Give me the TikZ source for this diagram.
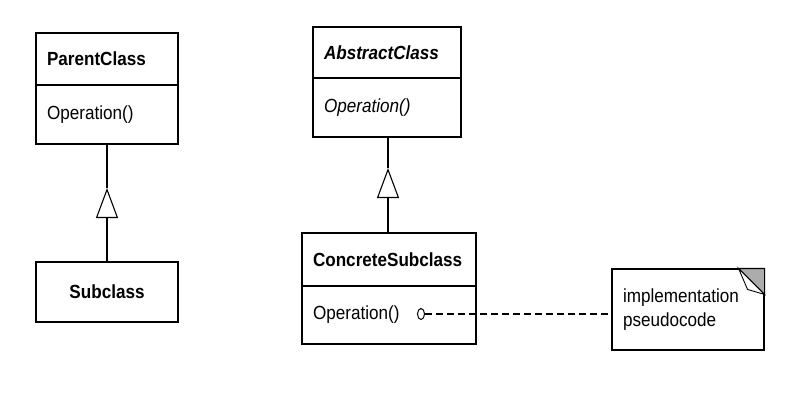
\documentclass[tikz,border=0pt]{standalone}
\usepackage{fontspec}
\setmainfont{Liberation Sans}[FakeStretch=0.9]
\usetikzlibrary{arrows.meta,shapes.geometric,calc}
\newcommand{\umlfont}{\fontsize{19}{24}\selectfont}
\tikzset{
  box/.style={draw,line width=1.1pt,inner xsep=11pt,inner ysep=0pt,font=\umlfont},
  hdr/.style={box,font=\umlfont\bfseries,align=left},
  ops/.style={box,align=left},
  edge/.style={line width=1.1pt},
  inh/.style={edge,-{Triangle[open,length=30pt,width=22pt]}},
  notelink/.style={line width=1.1pt,dash pattern=on 7pt off 4pt}
}
\begin{document}
\begin{tikzpicture}[x=1pt,y=-1pt]
\useasboundingbox (0,0) rectangle (801,400);
% left: parent and subclass
\node[hdr,text width=120pt,minimum height=52pt] (pc) at (107,59) {ParentClass};
\node[ops,text width=120pt,minimum height=59pt] (pco) at (107,114.5) {Operation()};
\node[box,font=\umlfont\bfseries,minimum width=142pt,minimum height=60pt] (sub) at (107,292) {Subclass};
\coordinate (tri1) at (107,188);
\draw[edge] (pco.south) -- (tri1);
\draw[inh] (sub.north) -- (tri1);
% right: abstract and concrete class
\node[hdr,font=\umlfont\bfseries\itshape,text width=126pt,minimum height=51pt] (ac) at (387,52.5) {AbstractClass};
\node[ops,font=\umlfont\itshape,text width=126pt,minimum height=59pt] (aco) at (387,107.5) {Operation()};
\node[hdr,text width=152pt,minimum height=53pt] (cs) at (389,259.5) {ConcreteSubclass};
\node[ops,text width=152pt,minimum height=58pt] (cso) at (389,315) {Operation()};
\coordinate (tri2) at (388,168);
\draw[edge] (aco.south -| tri2) -- (tri2);
\draw[inh] (cs.north -| tri2) -- (tri2);
% note
\node[ops,text width=130pt,minimum height=81pt] (note) at (688,309.5) {implementation\\pseudocode};
\filldraw[line width=1.1pt,fill=gray!65] ($(note.north east)+(-26,0)$) -- (note.north east) -- ($(note.north east)+(0,26)$) -- cycle;
\filldraw[line width=0.9pt,fill=white] ($(note.north east)+(-26,0)$) -- ($(note.north east)+(-17,21)$) -- ($(note.north east)+(0,26)$) -- cycle;
\node[draw,ellipse,line width=1pt,minimum width=7pt,minimum height=11pt,inner sep=0pt] (hook) at (421,314) {};
\draw[notelink] (hook.east) -- (hook -| note.west);
\end{tikzpicture}
\end{document}
